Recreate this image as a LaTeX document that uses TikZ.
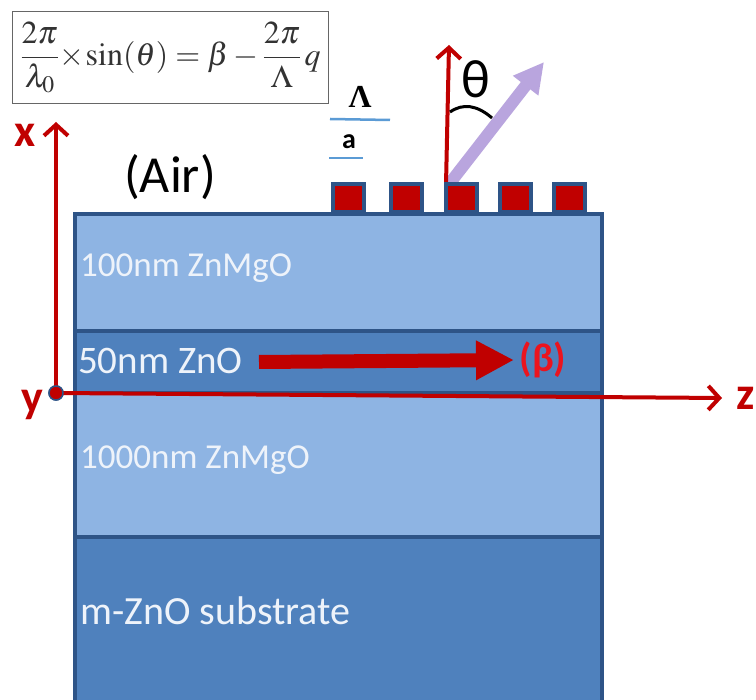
\documentclass[tikz,border=0pt]{standalone}
\usepackage[no-math]{fontspec}
\usepackage{amsmath}
\usepackage{mathptmx}
\setmainfont{Carlito}
\newfontfamily\lamfont{Liberation Serif}
\usetikzlibrary{arrows.meta, positioning, calc}
\definecolor{myred}{RGB}{192,0,0}
\definecolor{mybright}{RGB}{235,20,30}
\definecolor{myedge}{RGB}{46,84,135}
\definecolor{mylight}{RGB}{142,180,227}
\definecolor{mymid}{RGB}{79,129,189}
\definecolor{mypurple}{RGB}{185,165,222}
\definecolor{myblue}{RGB}{91,155,213}
\definecolor{mytext}{RGB}{238,243,250}
\tikzset{
  lightlayer/.style={rectangle, draw=myedge, fill=mylight, line width=4pt,
    minimum width=527pt, outer sep=0pt, inner sep=0pt},
  midlayer/.style={lightlayer, fill=mymid},
  layertext/.style={anchor=west, inner sep=0pt, text=mytext},
  ridge/.style={rectangle, draw=myedge, fill=myred, line width=4pt,
    minimum width=31pt, minimum height=28pt, inner sep=0pt},
  axis/.style={-{Straight Barb[length=11pt,width=24pt,line width=4pt]}, line width=4pt, color=myred},
  axislabel/.style={inner sep=0pt, text=myred, font=\fontsize{46}{50}\selectfont\bfseries},
  period/.style={line width=2.5pt, color=myblue}
}
\begin{document}
\begin{tikzpicture}[x=1pt, y=-1pt]
  \clip (0,0) rectangle (756,700);
  \fill[white] (0,0) rectangle (756,700);

  % Layers
  \node[lightlayer, anchor=north west, minimum height=117pt] (cap) at (75,214) {};
  \node[midlayer, below=0pt of cap, minimum height=62pt] (well) {};
  \node[lightlayer, below=0pt of well, minimum height=144pt] (buffer) {};
  \node[midlayer, below=0pt of buffer, minimum height=200pt] (substrate) {};

  \node[layertext, font=\fontsize{35}{40}\selectfont] (captext) at (80,268) {100nm ZnMgO};
  \node[layertext, font=\fontsize{39}{44}\selectfont] (welltext) at (78,361) {50nm ZnO};
  \node[layertext, font=\fontsize{35}{40}\selectfont] (buffertext) at (80,460) {1000nm ZnMgO};
  \node[layertext, font=\fontsize{40}{44}\selectfont] (substext) at (80,611) {m-ZnO substrate};

  % Emission
  \coordinate (normbase) at (446,185);
  \coordinate (emitbase) at (450,183);
  \coordinate (normtip) at (449,45);
  \coordinate (emittip) at (544,62);
  \draw[line width=12pt, color=mypurple, -{Triangle[length=30pt,width=30pt]}] (emitbase) -- (emittip);
  \draw[axis] (normbase) -- (normtip);
  \draw[line width=3pt] (450,112) .. controls (463,103) and (477,105) .. (492,118);
  \node[inner sep=0pt, font=\fontsize{54}{58}\selectfont] (theta) at (476,79) {θ};

  % Grating
  \foreach \i/\xpos in {1/348, 2/406, 3/461.5, 4/515, 5/569.5}
    \node[ridge] (ridge\i) at (\xpos,198.5) {};

  % Formula
  \node[draw=black!60, line width=1.2pt, fill=white, anchor=north west, minimum width=316pt,
    minimum height=92pt, inner sep=0pt, text=black!80] (formula) at (12,11)
    {\fontsize{32}{38}\selectfont $\dfrac{2\pi}{\lambda_{0}}\!\times\!\sin(\theta)=\beta-\dfrac{2\pi}{\Lambda}\,q$};

  \node[inner sep=0pt, font=\fontsize{52}{58}\selectfont] (air) at (170,177) {(Air)};

  % Axes
  \coordinate (xtip) at (56,122);
  \coordinate (ztip) at (722,398);
  \node[circle, draw=myedge, fill=myred, line width=1.5pt, minimum size=14pt, inner sep=0pt] (origin) at (56,393) {};
  \draw[axis] (origin.center) -- (xtip);
  \draw[axis] (origin.center) -- (ztip);
  \node[circle, draw=myedge, fill=myred, line width=1.5pt, minimum size=14pt, inner sep=0pt] at (origin) {};
  \node[axislabel] (xlabel) at (25,135) {x};
  \node[axislabel] (ylabel) at (32,405) {y};
  \node[axislabel, anchor=east] (zlabel) at (755,398) {z};

  % Guided mode
  \coordinate (betastart) at (259,362);
  \coordinate (betatip) at (514,360);
  \draw[line width=14pt, color=myred, -{Triangle[length=38pt,width=37pt]}] (betastart) -- (betatip);
  \node[inner sep=0pt, text=mybright, font=\fontsize{40}{44}\selectfont\bfseries] (beta) at (543,360) {(β)};

  % Period marks
  \coordinate (periodl) at (330,119);
  \coordinate (periodr) at (390,120);
  \coordinate (widthl) at (329,158);
  \coordinate (widthr) at (363,158);
  \draw[period] (periodl) -- (periodr);
  \draw[period] (widthl) -- (widthr);
  \node[inner sep=0pt, font=\fontsize{32}{36}\selectfont\lamfont\bfseries] (lambdalabel) at (360,97) {Λ};
  \node[inner sep=0pt, font=\fontsize{28}{30}\selectfont\bfseries] (alabel) at (349,142) {a};
\end{tikzpicture}
\end{document}
